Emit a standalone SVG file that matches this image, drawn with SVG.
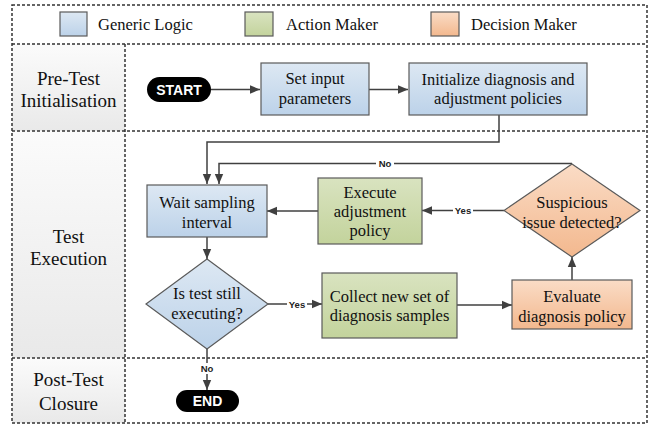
<svg xmlns="http://www.w3.org/2000/svg" width="656" height="425" viewBox="0 0 656 425">
<defs>
<linearGradient id="gBlue" x1="0" y1="0" x2="0" y2="1"><stop offset="0" stop-color="#DDE8F3"/><stop offset="1" stop-color="#BCD2E9"/></linearGradient>
<linearGradient id="gGreen" x1="0" y1="0" x2="0" y2="1"><stop offset="0" stop-color="#D9E3C0"/><stop offset="1" stop-color="#C3D39C"/></linearGradient>
<linearGradient id="gOrange" x1="0" y1="0" x2="0" y2="1"><stop offset="0" stop-color="#FADCC6"/><stop offset="1" stop-color="#F3B88E"/></linearGradient>
<linearGradient id="gGrey" x1="0" y1="0" x2="0" y2="1"><stop offset="0" stop-color="#FBFBFB"/><stop offset="1" stop-color="#E9E9E9"/></linearGradient>
<marker id="arr" markerUnits="userSpaceOnUse" markerWidth="10" markerHeight="10" viewBox="0 0 10 10" refX="10" refY="5" orient="auto"><path d="M0,0.8 L10,5 L0,9.2 Z" fill="#404040"/></marker>
</defs>
<style>
.dash{fill:none;stroke:#333;stroke-width:1.5;stroke-dasharray:3,2}
.box{stroke:#5A5A5A;stroke-width:1.2}
.sf{font-family:'Liberation Serif','Times New Roman',Times,serif}
.ss{font-family:'Liberation Sans',Arial,Helvetica,sans-serif}
.t{font-size:16.5px;fill:#111;text-anchor:middle}
.lg{font-size:16.5px;fill:#111}
.rl{font-size:19px;fill:#111;text-anchor:middle}
.pill{font-size:14px;font-weight:bold;fill:#fff;text-anchor:middle}
.lab{font-size:9.5px;font-weight:bold;fill:#222;text-anchor:middle}
.c{fill:none;stroke:#404040;stroke-width:1.5;marker-end:url(#arr)}
</style>
<rect width="656" height="425" fill="#fff"/>
<g id="lanes" class="sf">
<rect x="12" y="44" width="113" height="87" fill="url(#gGrey)"/>
<rect x="12" y="131" width="113" height="227" fill="url(#gGrey)"/>
<rect x="12" y="358" width="113" height="65" fill="url(#gGrey)"/>
<rect class="dash" x="12" y="5" width="635" height="418"/>
<line class="dash" x1="12" y1="44" x2="647" y2="44"/>
<line class="dash" x1="12" y1="131" x2="647" y2="131"/>
<line class="dash" x1="12" y1="358" x2="647" y2="358"/>
<line class="dash" x1="125" y1="44" x2="125" y2="423"/>
<text class="rl" x="68.5" y="85">Pre-Test</text>
<text class="rl" x="68.5" y="107">Initialisation</text>
<text class="rl" x="68.5" y="243">Test</text>
<text class="rl" x="68.5" y="265">Execution</text>
<text class="rl" x="68.5" y="386">Post-Test</text>
<text class="rl" x="68.5" y="410">Closure</text>
</g>
<g id="legend" class="sf">
<rect class="box" x="60" y="12" width="27" height="24" fill="url(#gBlue)"/>
<text class="lg" x="98" y="30">Generic Logic</text>
<rect class="box" x="245" y="12" width="28" height="24" fill="url(#gGreen)"/>
<text class="lg" x="286" y="30">Action Maker</text>
<rect class="box" x="431" y="12" width="28" height="24" fill="url(#gOrange)"/>
<text class="lg" x="471" y="30">Decision Maker</text>
</g>
<g id="connectors" class="ss">
<path class="c" d="M211,89.5 H260"/>
<path class="c" d="M369,89.5 H408"/>
<path class="c" d="M499,115 V142 H207 V184"/>
<path class="c" d="M572,163.5 H219 V184"/>
<path class="c" d="M504,210.5 H422"/>
<path class="c" d="M318,211 H267"/>
<path class="c" d="M207,237 V259"/>
<path class="c" d="M268,304 H322"/>
<path class="c" d="M457,305 H512"/>
<path class="c" d="M572,280 V257"/>
<path class="c" d="M207,349 V390"/>
<rect x="376" y="158" width="18" height="11" fill="#fff"/>
<text class="lab" x="385" y="167">No</text>
<rect x="453" y="205" width="20" height="11" fill="#fff"/>
<text class="lab" x="463" y="214">Yes</text>
<rect x="287" y="298" width="20" height="11" fill="#fff"/>
<text class="lab" x="297" y="307.5">Yes</text>
<rect x="198" y="363" width="18" height="11" fill="#fff"/>
<text class="lab" x="207" y="372">No</text>
</g>
<g id="start" class="ss">
<rect x="147" y="77" width="64" height="25" rx="12.5" fill="#000"/>
<text class="pill" x="179" y="94.5">START</text>
</g>
<g id="set-input" class="sf">
<rect class="box" x="261" y="63" width="108" height="52" fill="url(#gBlue)"/>
<text class="t" x="315" y="84">Set input</text>
<text class="t" x="315" y="104">parameters</text>
</g>
<g id="init-policies" class="sf">
<rect class="box" x="409" y="63" width="178" height="52" fill="url(#gBlue)"/>
<text class="t" x="498" y="85">Initialize diagnosis and</text>
<text class="t" x="498" y="104">adjustment policies</text>
</g>
<g id="wait" class="sf">
<rect class="box" x="147" y="185" width="120" height="52" fill="url(#gBlue)"/>
<text class="t" x="207" y="207.5">Wait sampling</text>
<text class="t" x="207" y="227.5">interval</text>
</g>
<g id="execute" class="sf">
<rect class="box" x="318" y="178" width="104" height="66" fill="url(#gGreen)"/>
<text class="t" x="370" y="197.5">Execute</text>
<text class="t" x="370" y="216.5">adjustment</text>
<text class="t" x="370" y="235.5">policy</text>
</g>
<g id="suspicious" class="sf">
<polygon class="box" points="572,164 640,210.5 572,257 504,210.5" fill="url(#gOrange)"/>
<text class="t" x="572" y="207.5">Suspicious</text>
<text class="t" x="572" y="227.5">issue detected?</text>
</g>
<g id="is-test" class="sf">
<polygon class="box" points="207,259 268,304 207,349 146,304" fill="url(#gBlue)"/>
<text class="t" x="207" y="298.5">Is test still</text>
<text class="t" x="207" y="318.5">executing?</text>
</g>
<g id="collect" class="sf">
<rect class="box" x="322" y="273" width="135" height="65" fill="url(#gGreen)"/>
<text class="t" x="389.5" y="302">Collect new set of</text>
<text class="t" x="389.5" y="321">diagnosis samples</text>
</g>
<g id="evaluate" class="sf">
<rect class="box" x="512" y="280" width="120" height="49" fill="url(#gOrange)"/>
<text class="t" x="572" y="302">Evaluate</text>
<text class="t" x="572" y="322">diagnosis policy</text>
</g>
<g id="end" class="ss">
<rect x="176" y="390" width="63" height="22" rx="11" fill="#000"/>
<text class="pill" x="207.5" y="406">END</text>
</g>
</svg>
